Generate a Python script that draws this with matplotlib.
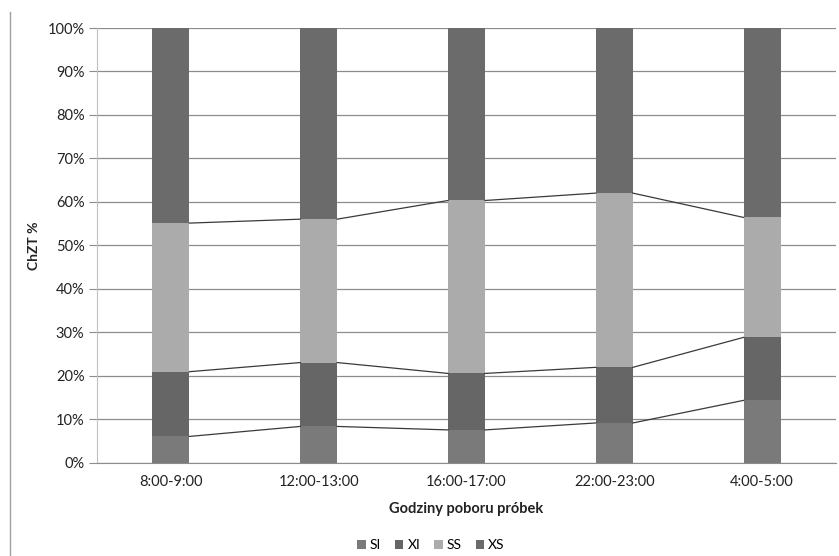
import matplotlib
matplotlib.use("Agg")
import matplotlib.pyplot as plt
import numpy as np
from matplotlib.lines import Line2D
from matplotlib.ticker import FuncFormatter, MultipleLocator

categories = ["8:00-9:00", "12:00-13:00", "16:00-17:00", "22:00-23:00", "4:00-5:00"]
series_names = ["SI", "XI", "SS", "XS"]
SI = [6.0, 8.3, 7.5, 9.1, 14.3]
XI = [14.9, 14.7, 13.0, 12.8, 14.5]
SS = [34.2, 33.0, 39.8, 40.1, 27.6]
XS = [44.9, 44.0, 39.7, 38.0, 43.6]
colors = ["#7a7a7a", "#666666", "#ababab", "#6b6b6b"]

plt.rcParams['font.family'] = ['Lato', 'DejaVu Sans']

fig = plt.figure(figsize=(8.39, 5.56), dpi=100)
W, H = 839, 556
ax = fig.add_axes([97 / W, 1 - 462.5 / H, (836 - 97) / W, (462.5 - 28) / H])

data = np.array([SI, XI, SS, XS], dtype=float)
totals = data.sum(axis=0)
pct = data / totals * 100
x = np.arange(len(categories))
bw = 0.25
bottom = np.zeros(len(categories))
for i, name in enumerate(series_names):
    ax.bar(x, pct[i], bw, bottom=bottom, color=colors[i], label=name, zorder=2, linewidth=0)
    bottom = bottom + pct[i]
    if i < len(series_names) - 1:
        for j in range(len(categories) - 1):
            ax.plot([x[j] + bw / 2, x[j + 1] - bw / 2], [bottom[j], bottom[j + 1]],
                    color="#3a3a3a", lw=0.9, zorder=3)

ax.set_xlim(-0.5, len(categories) - 0.5)
ax.set_ylim(0, 100)
ax.yaxis.set_major_locator(MultipleLocator(10))
ax.yaxis.set_major_formatter(FuncFormatter(lambda v, p: f"{int(round(v))}%"))
ax.grid(axis='y', color="#8c8c8c", lw=0.9, zorder=0)
ax.set_axisbelow(True)
ax.set_xticks(x)
ax.set_xticklabels(categories)
for s in ["top", "right"]:
    ax.spines[s].set_visible(False)
ax.spines["left"].set_color("#c0c0c0")
ax.spines["bottom"].set_color("#8c8c8c")
ax.tick_params(axis='y', length=6, color="#8c8c8c", labelsize=10.5, pad=3, labelcolor="#222222")
ax.tick_params(axis='x', length=0, labelsize=10.5, pad=9, labelcolor="#222222")
ax.set_ylabel("ChZT %", fontsize=10, fontweight="bold", labelpad=5, color="#222222")
ax.set_xlabel("Godziny poboru próbek", fontsize=10.5, fontweight="bold", labelpad=9, color="#222222")

leg = fig.legend(*ax.get_legend_handles_labels(), loc="center", bbox_to_anchor=(431 / W, 1 - 545 / H),
                 ncol=4, frameon=False, fontsize=10, handlelength=0.6, handleheight=0.6,
                 handletextpad=0.3, columnspacing=1.0)

fig.add_artist(Line2D([10 / W, 10 / W], [0, 1 - 12 / H], color="#a0a0a0", lw=1, transform=fig.transFigure))

fig.savefig("out.png", dpi=100)
